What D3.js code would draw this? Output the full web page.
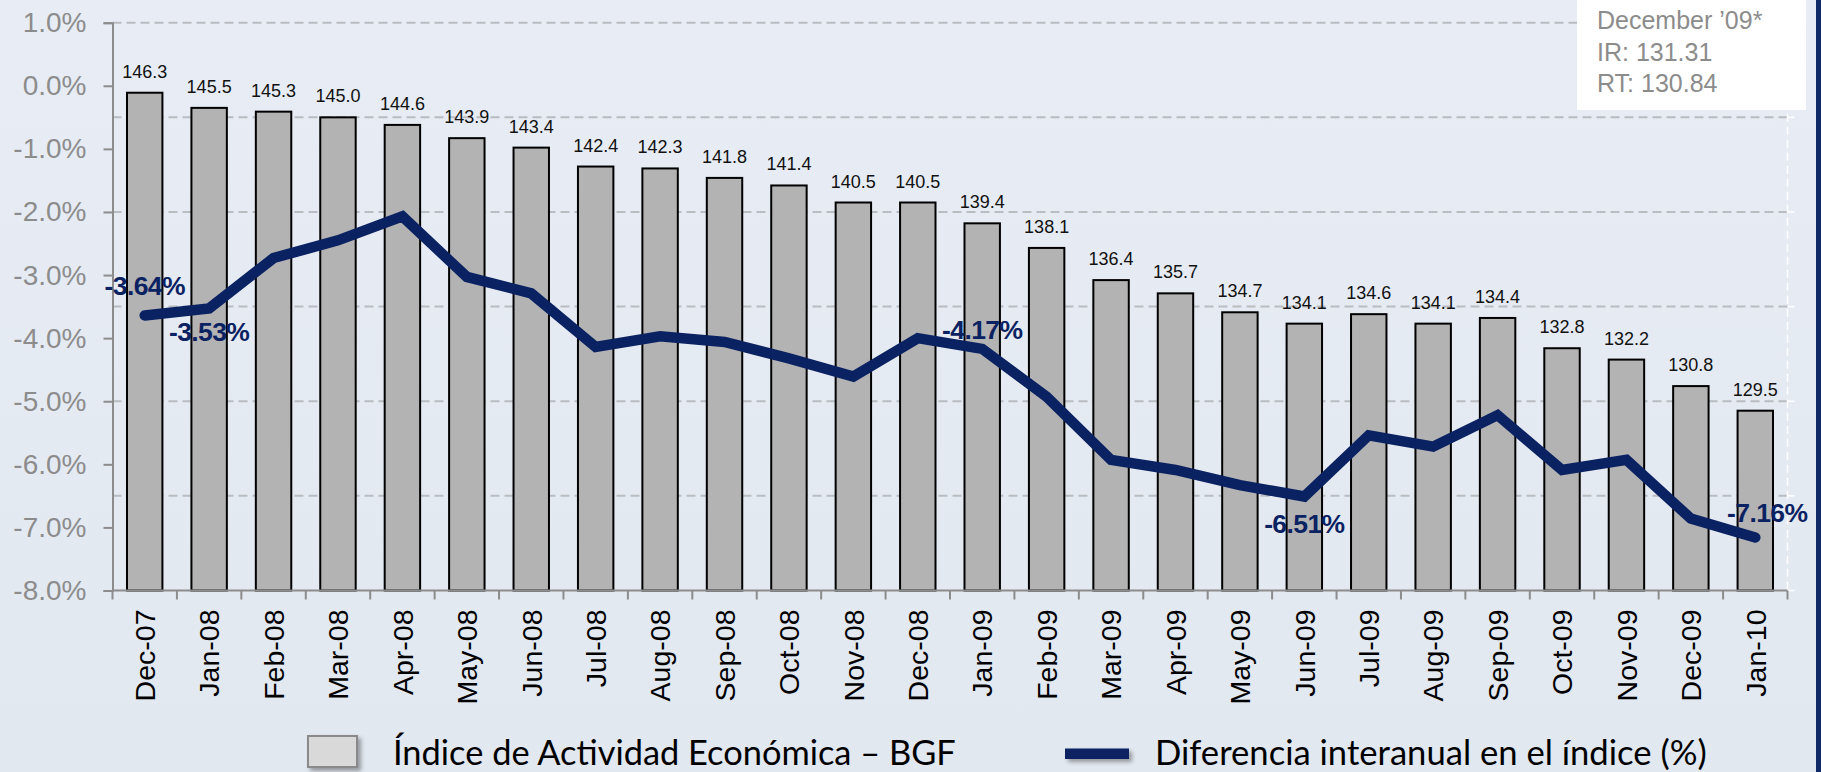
<!DOCTYPE html>
<html>
<head>
<meta charset="utf-8">
<script src="https://cdn.jsdelivr.net/npm/d3@7"></script>
<style>
  html, body { margin: 0; padding: 0; background: #e4e9f1; }
  svg { display: block; }
</style>
</head>
<body>
<div id="chart"></div>
<script>
const months = ["Dec-07","Jan-08","Feb-08","Mar-08","Apr-08","May-08","Jun-08","Jul-08","Aug-08","Sep-08","Oct-08","Nov-08","Dec-08","Jan-09","Feb-09","Mar-09","Apr-09","May-09","Jun-09","Jul-09","Aug-09","Sep-09","Oct-09","Nov-09","Dec-09","Jan-10"];
const indexValues = [146.3,145.5,145.3,145.0,144.6,143.9,143.4,142.4,142.3,141.8,141.4,140.5,140.5,139.4,138.1,136.4,135.7,134.7,134.1,134.6,134.1,134.4,132.8,132.2,130.8,129.5];
const pctValues = [-3.64,-3.53,-2.73,-2.45,-2.07,-3.03,-3.29,-4.14,-3.97,-4.06,-4.32,-4.61,-4.00,-4.17,-4.93,-5.93,-6.09,-6.33,-6.51,-5.54,-5.72,-5.22,-6.09,-5.93,-6.86,-7.16];
const pctTicks = [1,0,-1,-2,-3,-4,-5,-6,-7,-8];
const indexGrid = [125,130,135,140,145,150];
// which points of the line get a label, and where it sits
const pctLabels = [
  { i: 0, dx: 0, dy: -20 },
  { i: 1, dx: 0, dy: 33 },
  { i: 13, dx: 0, dy: -10 },
  { i: 18, dx: 0, dy: 37 },
  { i: 25, dx: 12, dy: -16 }
];
const noteLines = ["December \u201909*", "IR: 131.31", "RT: 130.84"];
const legendItems = ["\u00cdndice de Actividad Econ\u00f3mica \u2013 BGF", "Diferencia interanual en el \u00edndice (%)"];

const W = 1821, H = 772;
const dims = { left: 112.5, right: 1787.5, top: 22.7, bottom: 590.5 };
const navy = "#0b2262";
const grey = "#8c8c8c";

const svg = d3.select("#chart").append("svg")
  .attr("width", W).attr("height", H);

const defs = svg.append("defs");
const grad = defs.append("linearGradient").attr("id", "bg").attr("x1", 0).attr("y1", 0).attr("x2", 0).attr("y2", 1);
grad.append("stop").attr("offset", "0%").attr("stop-color", "#e8edf5");
grad.append("stop").attr("offset", "100%").attr("stop-color", "#e2e8f0");
const shadow = defs.append("filter").attr("id", "shadow").attr("x", "-20%").attr("y", "-50%").attr("width", "150%").attr("height", "250%");
shadow.append("feDropShadow").attr("dx", 3).attr("dy", 3).attr("stdDeviation", 2).attr("flood-color", "#000").attr("flood-opacity", 0.35);

svg.append("rect").attr("width", W).attr("height", H).attr("fill", "url(#bg)");
svg.append("rect").attr("x", 1816).attr("width", 5).attr("height", H).attr("fill", "#0f2a66");

const x = d3.scaleBand().domain(months).range([dims.left, dims.right])
  .paddingInner(0.45).paddingOuter(0.225);
const yPct = d3.scaleLinear().domain([-8, 1]).range([dims.bottom, dims.top]);
const yIdx = d3.scaleLinear().domain([120, 150]).range([dims.bottom, dims.top]);
const cx = (m) => x(m) + x.bandwidth() / 2;

// gridlines from the index axis
svg.append("g").selectAll("line").data(indexGrid).enter().append("line")
  .attr("x1", dims.left).attr("x2", dims.right)
  .attr("y1", (d) => yIdx(d)).attr("y2", (d) => yIdx(d))
  .attr("stroke", "#b9bcc0").attr("stroke-width", 2)
  .attr("stroke-dasharray", "9,5");

// right (hidden) index axis: white dashed
svg.append("line")
  .attr("x1", dims.right).attr("x2", dims.right)
  .attr("y1", dims.top).attr("y2", dims.bottom)
  .attr("stroke", "#ffffff").attr("stroke-width", 1.5).attr("stroke-dasharray", "8,5");
svg.append("g").selectAll("line").data(indexGrid.concat([120])).enter().append("line")
  .attr("x1", dims.right).attr("x2", dims.right + 7)
  .attr("y1", (d) => yIdx(d)).attr("y2", (d) => yIdx(d))
  .attr("stroke", "#ffffff").attr("stroke-width", 1.5);

// bars
svg.append("g").selectAll("rect").data(indexValues).enter().append("rect")
  .attr("x", (d, i) => x(months[i]))
  .attr("width", x.bandwidth())
  .attr("y", (d) => yIdx(d))
  .attr("height", (d) => dims.bottom - yIdx(d))
  .attr("fill", "#b3b3b3").attr("stroke", "#000").attr("stroke-width", 2);

svg.append("g").selectAll("text").data(indexValues).enter().append("text")
  .attr("x", (d, i) => cx(months[i]))
  .attr("y", (d) => yIdx(d) - 15)
  .attr("text-anchor", "middle")
  .attr("font-family", "Arial, 'Liberation Sans', sans-serif")
  .attr("font-size", 18).attr("fill", "#111")
  .text((d) => d.toFixed(1));

// left axis
const yAxis = svg.append("g").attr("transform", `translate(${dims.left},0)`)
  .call(d3.axisLeft(yPct).tickValues(pctTicks)
    .tickFormat((d) => d.toFixed(1) + "%").tickSize(9).tickPadding(17));
yAxis.select(".domain").attr("stroke", grey).attr("stroke-width", 2);
yAxis.selectAll(".tick line").attr("stroke", grey).attr("stroke-width", 2);
yAxis.selectAll(".tick text")
  .attr("font-family", "Arial, 'Liberation Sans', sans-serif")
  .attr("font-size", 28).attr("fill", grey);

// bottom axis: ticks between categories
const step = x.step();
svg.append("line")
  .attr("x1", dims.left).attr("x2", dims.right)
  .attr("y1", dims.bottom).attr("y2", dims.bottom)
  .attr("stroke", grey).attr("stroke-width", 2);
svg.append("g").selectAll("line").data(d3.range(months.length + 1)).enter().append("line")
  .attr("x1", (i) => dims.left + i * step).attr("x2", (i) => dims.left + i * step)
  .attr("y1", dims.bottom).attr("y2", dims.bottom + 9)
  .attr("stroke", grey).attr("stroke-width", 2);
svg.append("g").selectAll("text").data(months).enter().append("text")
  .attr("transform", (m) => `translate(${cx(m)},${dims.bottom + 19}) rotate(-90)`)
  .attr("dy", "0.36em")
  .attr("text-anchor", "end")
  .attr("font-family", "Arial, 'Liberation Sans', sans-serif")
  .attr("font-size", 28.5).attr("fill", "#000")
  .text((m) => m);

// line
const line = d3.line()
  .x((d, i) => cx(months[i]))
  .y((d) => yPct(d));
svg.append("path")
  .attr("d", line(pctValues))
  .attr("fill", "none").attr("stroke", navy).attr("stroke-width", 10.5)
  .attr("stroke-linejoin", "miter").attr("stroke-linecap", "round");

svg.append("g").selectAll("text").data(pctLabels).enter().append("text")
  .attr("x", (d) => cx(months[d.i]) + d.dx)
  .attr("y", (d) => yPct(pctValues[d.i]) + d.dy)
  .attr("text-anchor", "middle")
  .attr("font-family", "Arial, 'Liberation Sans', sans-serif")
  .attr("font-weight", "bold").attr("font-size", 26.5)
  .attr("letter-spacing", -0.6)
  .attr("fill", navy)
  .text((d) => pctValues[d.i].toFixed(2) + "%");

// note box
svg.append("rect").attr("x", 1577).attr("y", 0).attr("width", 229).attr("height", 110).attr("fill", "#ffffff");
svg.append("g").selectAll("text").data(noteLines).enter().append("text")
  .attr("x", 1597).attr("y", (d, i) => 29 + i * 31.5)
  .attr("font-family", "Arial, 'Liberation Sans', sans-serif")
  .attr("font-size", 25).attr("fill", grey)
  .text((d) => d);

// legend
const legend = svg.append("g");
legend.append("rect").attr("x", 308).attr("y", 736).attr("width", 49).attr("height", 31)
  .attr("fill", "#d9d9d9").attr("stroke", "#8a8a8a").attr("stroke-width", 2)
  .attr("filter", "url(#shadow)");
legend.append("rect").attr("x", 1065).attr("y", 748.5).attr("width", 64).attr("height", 10.5)
  .attr("fill", navy).attr("filter", "url(#shadow)");
const legendPos = [{ x: 393, w: 563 }, { x: 1155, w: 552 }];
legend.selectAll("text").data(legendItems).enter().append("text")
  .attr("x", (d, i) => legendPos[i].x).attr("y", 765)
  .attr("font-family", "Lato, 'Open Sans', sans-serif")
  .attr("font-size", 32).attr("fill", "#000")
  .text((d) => d)
  .each(function (d, i) {
    const len = this.getComputedTextLength();
    if (len > 0) d3.select(this).attr("font-size", 32 * legendPos[i].w / len);
  });
</script>
</body>
</html>
